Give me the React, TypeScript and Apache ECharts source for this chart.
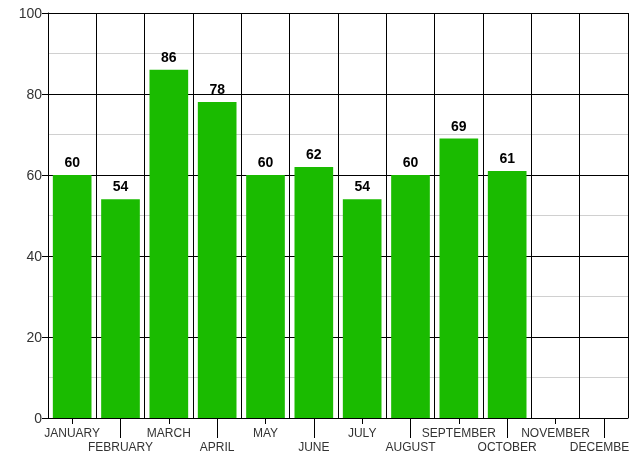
import React, { useEffect, useRef } from "react";
import * as echarts from "echarts";

const months = ["JANUARY", "FEBRUARY", "MARCH", "APRIL", "MAY", "JUNE", "JULY", "AUGUST", "SEPTEMBER", "OCTOBER", "NOVEMBER", "DECEMBER"];
const values: (number | null)[] = [60, 54, 86, 78, 60, 62, 54, 60, 69, 61, null, null];
const yMin = 0;
const yMax = 100;
const yInterval = 20;

export default function App() {
  const ref = useRef<HTMLDivElement>(null);
  useEffect(() => {
    if (!ref.current) return;
    const chart = echarts.init(ref.current, null, { renderer: "svg" });
    const font = "Liberation Sans, Arial, sans-serif";
    chart.setOption({
      animation: false,
      grid: { left: 48, right: 2, top: 13, bottom: 37, containLabel: false, outerBoundsMode: "none" },
      xAxis: [
        {
          type: "category",
          data: months,
          position: "bottom",
          axisLine: { show: true, lineStyle: { color: "#000", width: 1 } },
          axisTick: {
            show: true,
            alignWithLabel: true,
            length: 6,
            interval: (i: number) => i % 2 === 0,
            lineStyle: { color: "#000" },
          },
          axisLabel: {
            interval: 0,
            margin: 8,
            color: "#333",
            fontFamily: font,
            fontSize: 12,
            lineHeight: 14,
            hideOverlap: false,
            formatter: (v: string, i: number) => (i % 2 === 1 ? "\n" + v : v),
          },
          splitLine: { show: true, lineStyle: { color: "#000", width: 1 } },
        },
        {
          type: "category",
          data: months,
          position: "bottom",
          axisLine: { show: false },
          axisTick: {
            show: true,
            alignWithLabel: true,
            length: 20,
            interval: (i: number) => i % 2 === 1,
            lineStyle: { color: "#000" },
          },
          axisLabel: { show: false },
          splitLine: { show: false },
        },
      ],
      yAxis: {
        type: "value",
        min: yMin,
        max: yMax,
        interval: yInterval,
        axisLine: { show: true, lineStyle: { color: "#000" } },
        axisTick: { show: true, length: 6, lineStyle: { color: "#000" } },
        axisLabel: { color: "#333", fontFamily: font, fontSize: 14, margin: 6 },
        splitLine: { show: true, lineStyle: { color: "#000", width: 1 } },
        minorTick: { show: false, splitNumber: 2 },
        minorSplitLine: { show: true, lineStyle: { color: "#d0d0d0", width: 1 } },
      },
      series: [
        {
          type: "bar",
          data: values,
          xAxisIndex: 0,
          barCategoryGap: "20%",
          itemStyle: { color: "#1abb00" },
          label: {
            show: true,
            position: "top",
            distance: 6,
            color: "#000",
            fontFamily: font,
            fontWeight: "bold",
            fontSize: 14,
          },
        },
      ],
    });
    return () => chart.dispose();
  }, []);
  return <div ref={ref} style={{ position: "fixed", left: 0, top: 0, width: 630, height: 455 }} />;
}
